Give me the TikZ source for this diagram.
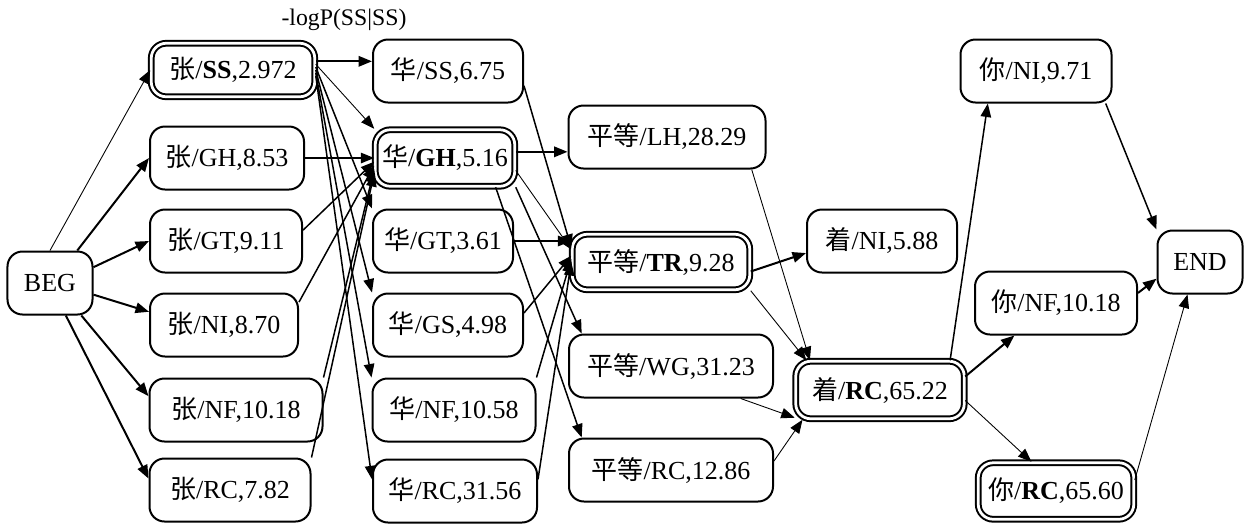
\documentclass[tikz,border=0pt]{standalone}
\usepackage{fontspec}
\setmainfont{Liberation Serif}
\newfontfamily\cjk{Noto Sans CJK SC}
\usetikzlibrary{arrows.meta}

\begin{document}
\begin{tikzpicture}[x=0.4pt, y=-0.4pt,
  font={\fontsize{10.4}{12}\selectfont},
  box/.style={draw, line width=0.8pt, rounded corners=6pt, fill=white, minimum height=25.2pt, inner sep=2pt},
  best/.style={box, double, line width=0.8pt, double distance=1.1pt, minimum height=22.6pt},
  strong/.style={-{Triangle[length=5.4pt,width=4.2pt]}, line width=0.8pt},
  medium/.style={-{Triangle[length=5.4pt,width=4.2pt]}, line width=0.6pt},
  faint/.style={-{Triangle[length=5.4pt,width=4.2pt]}, line width=0.35pt}]
  \useasboundingbox (0,0) rectangle (1247,523);

  % Start and end
  \node[box, minimum width=34pt] (beg) at (50,283) {BEG};
  \node[box, minimum width=34pt] (endn) at (1200,262) {END};
  \node[font={\fontsize{9.5}{11}\selectfont}] (cost) at (344,20) {-logP(SS|SS)};

  % Column 1
  \node[best, minimum width=65.4pt, minimum height=21.4pt] (zSS) at (233,70) {{\cjk 张}/\textbf{SS},2.972};
  \node[box, minimum width=61.6pt] (zGH) at (227,158) {{\cjk 张}/GH,8.53};
  \node[box, minimum width=60.8pt] (zGT) at (226,241) {{\cjk 张}/GT,9.11};
  \node[box, minimum width=59.2pt] (zNI) at (224,325) {{\cjk 张}/NI,8.70};
  \node[box, minimum width=69.2pt] (zNF) at (236,410) {{\cjk 张}/NF,10.18};
  \node[box, minimum width=64.4pt] (zRC) at (230,490) {{\cjk 张}/RC,7.82};

  % Column 2
  \node[box, minimum width=60pt] (hSS) at (448,71) {{\cjk 华}/SS,6.75};
  \node[best, minimum width=55.8pt] (hGH) at (445,158) {{\cjk 华}/\textbf{GH},5.16};
  \node[box, minimum width=56pt] (hGT) at (443,241) {{\cjk 华}/GT,3.61};
  \node[box, minimum width=60pt] (hGS) at (448,325) {{\cjk 华}/GS,4.98};
  \node[box, minimum width=65.2pt] (hNF) at (454,410) {{\cjk 华}/NF,10.58};
  \node[box, minimum width=65.6pt] (hRC) at (455,491) {{\cjk 华}/RC,31.56};

  % Column 3
  \node[box, minimum width=78.8pt] (pLH) at (667,137) {{\cjk 平等}/LH,28.29};
  \node[best, minimum width=71pt, minimum height=22.2pt] (pTR) at (661,262) {{\cjk 平等}/\textbf{TR},9.28};
  \node[box, minimum width=81.6pt] (pWG) at (671,366) {{\cjk 平等}/WG,31.23};
  \node[box, minimum width=81.6pt] (pRC) at (671,470) {{\cjk 平等}/RC,12.86};

  % Column 4
  \node[box, minimum width=60pt] (cNI) at (882,241) {{\cjk 着}/NI,5.88};
  \node[best, minimum width=67.4pt, minimum height=23pt] (cRC) at (880,390) {{\cjk 着}/\textbf{RC},65.22};

  % Column 5
  \node[box, minimum width=60.4pt] (nNI) at (1036,71) {{\cjk 你}/NI,9.71};
  \node[box, minimum width=64.8pt] (nNF) at (1056,303) {{\cjk 你}/NF,10.18};
  \node[best, minimum width=62.2pt] (nRC) at (1056,491) {{\cjk 你}/\textbf{RC},65.60};

  % BEG -> column 1
  \draw[faint] (beg.north) -- (zSS.west);
  \draw[strong] (beg.50) -- (zGH.west);
  \draw[strong] (beg.20) -- (zGT.west);
  \draw[strong] (beg.-15) -- (zNI.170);
  \draw[strong] (beg.-46) -- (zNF.171);
  \draw[strong] (beg.-64) -- (zRC.172);

  % column 1 -> column 2
  \draw[strong] (zSS.6) -- (zSS.6 -| hSS.west);
  \draw[faint] (zSS.4) -- (hGH.north west);
  \draw[medium] (zSS.2) -- (hGT.north west);
  \draw[medium] (zSS.0) -- (hGS.north west);
  \draw[medium] (zSS.-2) -- (hNF.north west);
  \draw[medium] (zSS.-4) -- (hRC.172);
  \draw[medium] (zGH.east) -- (hGH.west);
  \draw[medium] (zGT.8) -- (hGH.183);
  \draw[medium] (zNI.17) -- (hGH.186);
  \draw[medium] (zNF.north east) -- (hGH.189);
  \draw[medium] (zRC.north east) -- (hGH.192);

  % column 2 -> column 3
  \draw[medium] (hSS.-11) -- (pTR.171);
  \draw[strong] (hGH.5) -- (hGH.5 -| pLH.west);
  \draw[faint] (hGH.-10) -- (pTR.172);
  \draw[medium] (hGH.south east) -- (pWG.160);
  \draw[medium] (hGH.-30) -- (pRC.160);
  \draw[strong] (hGT.east) -- (hGT.east -| pTR.west);
  \draw[medium] (hGS.9) -- (pTR.176);
  \draw[medium] (hNF.north east) -- (pTR.178);
  \draw[medium] (hRC.8) -- (pTR.180);

  % column 3 -> column 4
  \draw[strong] (pTR.-6) -- (cNI.189);
  \draw[faint] (pTR.south east) -- (cRC.158);
  \draw[faint] (pLH.-21) -- (cRC.157);
  \draw[faint] (pWG.-25) -- (cRC.198);
  \draw[faint] (pRC.5) -- (cRC.201);

  % column 4 -> column 5
  \draw[medium] (cRC.23) -- (nNI.-146);
  \draw[strong] (cRC.9) -- (nNF.-142);
  \draw[faint] (cRC.-7) -- (nRC.130);

  % column 5 -> END
  \draw[medium] (nNI.-25) -- (endn.north west);
  \draw[strong] (nNF.7) -- (endn.201);
  \draw[faint] (nRC.8) -- (endn.-111);
\end{tikzpicture}
\end{document}
